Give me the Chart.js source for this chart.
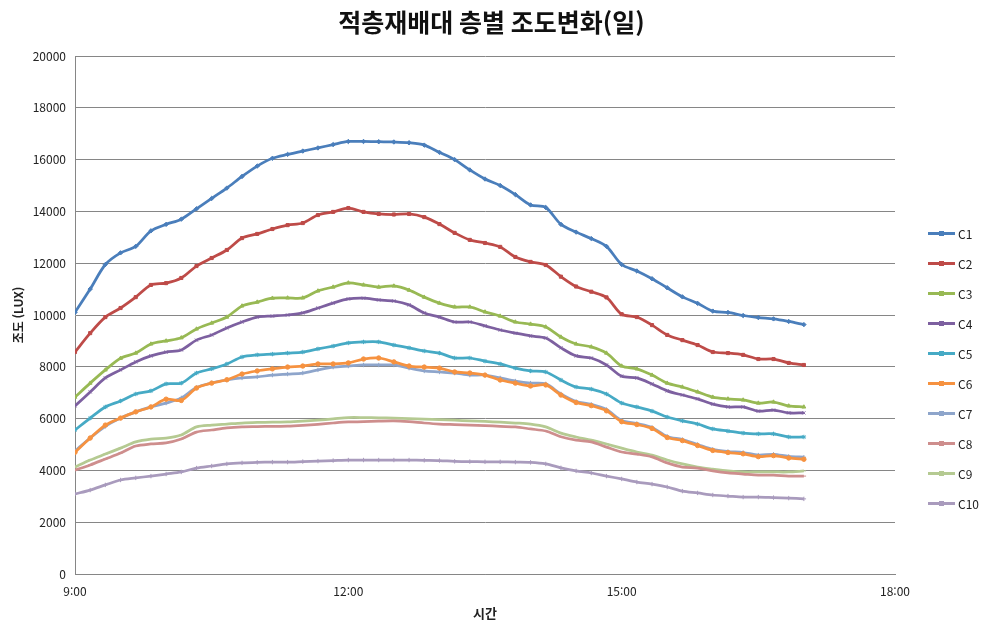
<!DOCTYPE html>
<html lang="ko">
<head>
<meta charset="utf-8">
<title>적층재배대 층별 조도변화(일)</title>
<script src="https://cdn.jsdelivr.net/npm/chart.js@4.4.1/dist/chart.umd.min.js"></script>
<style>
    body { margin: 0; background: #fff; }
    #wrap { position: relative; width: 983px; height: 626px; }
    #legend {
        position: absolute; left: 928px; top: 218px;
        list-style: none; margin: 0; padding: 0;
        font: 12px 'Noto Sans CJK KR', 'Noto Sans', sans-serif; color: #222;
    }
    #legend li { display: flex; align-items: center; height: 30px; }
    #legend .swatch { width: 27px; height: 3px; margin-right: 3px; position: relative; }
    #legend .swatch::after {
        content: ''; position: absolute; left: 11px; top: -1px; width: 5px; height: 5px;
        background: inherit;
    }
</style>
</head>
<body>
<div id="wrap">
    <canvas id="chart" width="983" height="626"></canvas>
    <ul id="legend"></ul>
</div>
<script>
// time of each reading (every 10 minutes)
const times = ['9:00','9:10','9:20','9:30','9:40','9:50',
    '10:00','10:10','10:20','10:30','10:40','10:50',
    '11:00','11:10','11:20','11:30','11:40','11:50',
    '12:00','12:10','12:20','12:30','12:40','12:50',
    '13:00','13:10','13:20','13:30','13:40','13:50',
    '14:00','14:10','14:20','14:30','14:40','14:50',
    '15:00','15:10','15:20','15:30','15:40','15:50',
    '16:00','16:10','16:20','16:30','16:40','16:50','17:00'];

const xTicks = ['9:00', '12:00', '15:00', '18:00'];

const seriesNames = ['C1','C2','C3','C4','C5','C6','C7','C8','C9','C10'];

// illuminance (lux) per layer
const c1 = [10100, 11000, 11950, 12400, 12650, 13250, 13500, 13700, 14100, 14500, 14900, 15350, 15750, 16050, 16200, 16330, 16450, 16580, 16700, 16700, 16690, 16680, 16650, 16560, 16280, 16000, 15600, 15250, 15000, 14650, 14250, 14150, 13500, 13200, 12950, 12650, 11950, 11700, 11400, 11050, 10700, 10450, 10150, 10100, 9980, 9900, 9850, 9750, 9630];
const c2 = [8570, 9300, 9920, 10270, 10690, 11160, 11230, 11430, 11890, 12200, 12510, 12970, 13130, 13320, 13470, 13550, 13860, 13980, 14130, 13980, 13900, 13880, 13900, 13780, 13510, 13170, 12900, 12780, 12630, 12240, 12050, 11930, 11480, 11100, 10900, 10680, 10030, 9920, 9610, 9230, 9030, 8840, 8570, 8530, 8460, 8300, 8300, 8150, 8070];
const c3 = [6830, 7370, 7880, 8330, 8530, 8880, 9000, 9120, 9460, 9690, 9920, 10350, 10500, 10650, 10660, 10660, 10930, 11080, 11240, 11160, 11080, 11120, 10960, 10690, 10460, 10310, 10310, 10120, 9960, 9730, 9650, 9540, 9150, 8880, 8770, 8530, 8030, 7920, 7680, 7370, 7220, 7030, 6830, 6760, 6720, 6600, 6640, 6490, 6450];
const c4 = [6490, 7030, 7570, 7880, 8190, 8420, 8570, 8650, 9030, 9230, 9500, 9730, 9920, 9960, 10000, 10080, 10270, 10460, 10620, 10650, 10580, 10540, 10390, 10080, 9920, 9730, 9730, 9580, 9420, 9300, 9190, 9110, 8730, 8420, 8340, 8070, 7640, 7570, 7340, 7070, 6910, 6760, 6560, 6450, 6450, 6290, 6330, 6220, 6220];
const c5 = [5560, 6020, 6450, 6680, 6950, 7070, 7340, 7370, 7760, 7920, 8110, 8380, 8460, 8490, 8530, 8570, 8690, 8800, 8920, 8960, 8960, 8840, 8730, 8610, 8530, 8340, 8340, 8220, 8110, 7950, 7840, 7800, 7490, 7220, 7140, 6950, 6600, 6450, 6290, 6060, 5910, 5790, 5600, 5520, 5440, 5410, 5410, 5290, 5290];
const c6 = [4700, 5250, 5750, 6020, 6260, 6450, 6750, 6700, 7180, 7370, 7500, 7720, 7840, 7920, 7990, 8030, 8110, 8110, 8150, 8300, 8340, 8190, 8030, 7990, 7950, 7800, 7760, 7680, 7490, 7370, 7260, 7300, 6910, 6620, 6500, 6300, 5880, 5770, 5620, 5270, 5150, 4960, 4770, 4690, 4640, 4530, 4570, 4480, 4430];
const c7 = [4750, 5250, 5700, 6020, 6260, 6450, 6600, 6800, 7200, 7380, 7490, 7570, 7610, 7680, 7720, 7760, 7880, 7990, 8030, 8070, 8070, 8070, 7950, 7840, 7800, 7760, 7680, 7680, 7570, 7450, 7370, 7340, 6950, 6660, 6550, 6350, 5930, 5810, 5660, 5310, 5190, 5000, 4810, 4730, 4690, 4590, 4620, 4540, 4510];
const c8 = [4010, 4210, 4440, 4670, 4940, 5020, 5060, 5210, 5480, 5560, 5640, 5680, 5690, 5700, 5710, 5740, 5780, 5830, 5870, 5880, 5900, 5910, 5880, 5830, 5790, 5770, 5750, 5730, 5700, 5680, 5600, 5520, 5300, 5170, 5100, 4900, 4710, 4630, 4520, 4290, 4130, 4090, 3980, 3900, 3860, 3820, 3820, 3780, 3780];
const c9 = [4130, 4400, 4630, 4860, 5100, 5210, 5250, 5370, 5680, 5750, 5790, 5830, 5850, 5860, 5870, 5900, 5940, 5990, 6040, 6040, 6030, 6020, 6000, 5980, 5960, 5940, 5910, 5890, 5860, 5830, 5790, 5680, 5440, 5290, 5170, 5020, 4860, 4710, 4590, 4400, 4250, 4130, 4050, 3980, 3940, 3940, 3940, 3940, 3980];
const c10 = [3090, 3240, 3440, 3630, 3710, 3780, 3860, 3940, 4090, 4170, 4250, 4290, 4310, 4320, 4320, 4340, 4360, 4380, 4400, 4400, 4400, 4400, 4400, 4390, 4380, 4350, 4340, 4330, 4330, 4320, 4310, 4250, 4100, 3980, 3900, 3780, 3670, 3550, 3470, 3360, 3200, 3130, 3050, 3010, 2970, 2970, 2950, 2930, 2900];

const allSeries = [c1, c2, c3, c4, c5, c6, c7, c8, c9, c10];

// Excel 2007 default palette + marker shapes
const colors = ['#4A7EBB', '#BE4B48', '#98B954', '#7D60A0', '#46AAC5',
                '#F69240', '#8EA5CB', '#CE8E8D', '#B5CA92', '#A99BBD'];
const markers = ['rectRot', 'rect', 'triangle', 'crossRot', 'star',
                 'circle', 'cross', 'line', 'line', 'cross'];

function toHours(t) {
    const [h, m] = t.split(':').map(Number);
    return h + m / 60;
}

const FONT = "'Noto Sans CJK KR', 'Noto Sans', sans-serif";
Chart.defaults.font.family = FONT;
Chart.defaults.color = '#222';

const datasets = allSeries.map((values, i) => ({
    label: seriesNames[i],
    data: values.map((v, j) => ({ x: toHours(times[j]), y: v })),
    borderColor: colors[i],
    backgroundColor: colors[i],
    borderWidth: 2.75,
    pointStyle: markers[i],
    pointRadius: 2.2,
    pointBorderWidth: 1,
    tension: 0.3
}));

new Chart(document.getElementById('chart'), {
    type: 'line',
    data: { datasets: datasets },
    options: {
        responsive: false,
        animation: false,
        plugins: {
            legend: { display: false },
            tooltip: { enabled: false },
            title: {
                display: true,
                text: '적층재배대 층별 조도변화(일)',
                font: { size: 25, weight: 'bold', family: FONT },
                color: '#111',
                padding: { top: 7, bottom: 19 }
            }
        },
        scales: {
            x: {
                type: 'linear',
                min: 9,
                max: 18,
                afterBuildTicks: scale => {
                    scale.ticks = xTicks.map(t => ({ value: toHours(t) }));
                },
                afterFit: scale => { scale.height = 52; },
                grid: { display: false, drawTicks: false },
                border: { color: '#868686' },
                ticks: {
                    padding: 10,
                    font: { size: 12 },
                    callback: v => v + ':00'
                },
                title: {
                    display: true,
                    text: '시간',
                    font: { size: 13, weight: 'bold' },
                    padding: { top: 0, bottom: 5 }
                }
            },
            y: {
                min: 0,
                max: 20000,
                afterFit: scale => { scale.width = 75; },
                ticks: { stepSize: 2000, padding: 9, font: { size: 12 }, callback: v => String(v) },
                grid: { color: '#868686', drawTicks: false },
                border: { color: '#868686' },
                title: {
                    display: true,
                    text: '조도 (LUX)',
                    font: { size: 12, weight: 'bold' },
                    padding: { top: 11, bottom: 0 }
                }
            },
            // empty axis on the right that keeps room for the legend
            spacer: {
                position: 'right',
                afterFit: scale => { scale.width = 88; },
                grid: { display: false },
                border: { display: false },
                ticks: { display: false }
            }
        }
    }
});

// legend on the right, built from the same series
const legend = document.getElementById('legend');
seriesNames.forEach((name, i) => {
    const li = document.createElement('li');
    const sw = document.createElement('span');
    sw.className = 'swatch';
    sw.style.background = colors[i];
    li.appendChild(sw);
    li.appendChild(document.createTextNode(name));
    legend.appendChild(li);
});
</script>
</body>
</html>
